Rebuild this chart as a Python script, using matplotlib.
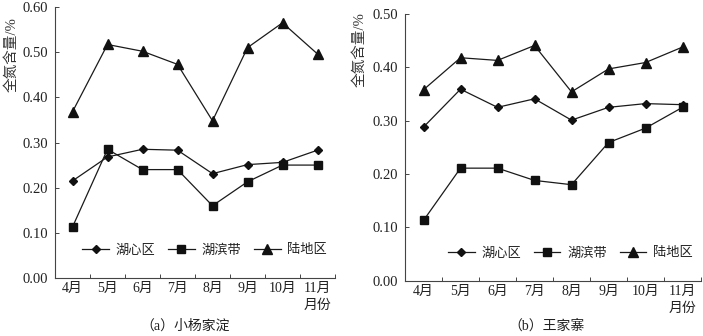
import matplotlib
matplotlib.use("Agg")
import matplotlib.pyplot as plt
from matplotlib.ticker import FixedLocator, NullFormatter

plt.rcParams['font.family'] = ['Liberation Serif', 'Noto Sans CJK SC', 'DejaVu Sans']

months = ["4月", "5月", "6月", "7月", "8月", "9月", "10月", "11月"]
series_names = ["湖心区", "湖滨带", "陆地区"]

# (a) 小杨家淀
a_center = [0.215, 0.268, 0.285, 0.283, 0.231, 0.251, 0.256, 0.283]
a_shore = [0.113, 0.285, 0.240, 0.240, 0.160, 0.213, 0.250, 0.250]
a_land = [0.368, 0.517, 0.502, 0.473, 0.348, 0.510, 0.565, 0.496]
a_yticks = [0.00, 0.10, 0.20, 0.30, 0.40, 0.50, 0.60]

# (b) 王家寨
b_center = [0.288, 0.359, 0.325, 0.341, 0.301, 0.325, 0.332, 0.330]
b_shore = [0.113, 0.211, 0.211, 0.188, 0.180, 0.259, 0.286, 0.325]
b_land = [0.358, 0.418, 0.413, 0.441, 0.354, 0.397, 0.409, 0.438]
b_yticks = [0.00, 0.10, 0.20, 0.30, 0.40, 0.50]

captions = ["（a）小杨家淀", "（b）王家寨"]
ylabel = "全氮含量/%"
xlabel = "月份"

TXT = "#222222"
fig = plt.figure(figsize=(7.03, 3.36), dpi=100)

ax1 = fig.add_axes([55/703, 58/336, 280/703, 271/336])
ax2 = fig.add_axes([405/703, 55.3/336, 296/703, 266.7/336])

markers = ["D", "s", "^"]
msizes = [4.5, 5.5, 6.5]

def draw(ax, data, yticks):
    x = list(range(len(months)))
    for vals, name, m, ms in zip(data, series_names, markers, msizes):
        ax.plot(x, vals, color="#1a1a1a", lw=0.9, marker=m, ms=ms,
                mfc="#111111", mec="#111111", label=name)
    ax.set_xlim(-0.5, len(months) - 0.5)
    ax.set_ylim(yticks[0], yticks[-1])
    ax.xaxis.set_major_locator(FixedLocator([i - 0.5 for i in range(len(months) + 1)]))
    ax.xaxis.set_major_formatter(NullFormatter())
    ax.xaxis.set_minor_locator(FixedLocator(x))
    ax.set_xticklabels(months, minor=True)
    ax.tick_params(axis="x", which="major", direction="in", length=3, width=0.7, color="#444")
    ax.tick_params(axis="x", which="minor", length=0, pad=3, labelsize=10, labelcolor=TXT)
    ax.set_yticks(yticks)
    ax.set_yticklabels([f"{v:.2f}" for v in yticks])
    ax.tick_params(axis="y", direction="in", length=3, width=0.7, color="#444",
                   labelsize=10.5, labelcolor=TXT, pad=5)
    for s in ["top", "right"]:
        ax.spines[s].set_visible(False)
    for s in ["left", "bottom"]:
        ax.spines[s].set_linewidth(0.8)
        ax.spines[s].set_color("#444")
    ax.legend(loc="lower right", bbox_to_anchor=(0.99, 0.06), ncol=3, frameon=False,
              fontsize=9.5, handlelength=2.0, columnspacing=1.0, handletextpad=0.5,
              labelcolor=TXT, borderaxespad=0)
    ax.text(len(months) - 1, -0.103, xlabel, transform=ax.get_xaxis_transform(),
            ha="center", va="center", fontsize=10, color=TXT)

draw(ax1, [a_center, a_shore, a_land], a_yticks)
draw(ax2, [b_center, b_shore, b_land], b_yticks)

fig.text(12/703, 1 - 55/336, ylabel, rotation=90, ha="center", va="center", fontsize=10.5, color="#333")
fig.text(360/703, 1 - 50/336, ylabel, rotation=90, ha="center", va="center", fontsize=10.5, color="#333")
fig.text(185/703, 1 - 326/336, captions[0], ha="center", va="center", fontsize=10, color=TXT)
fig.text(547/703, 1 - 326/336, captions[1], ha="center", va="center", fontsize=10, color=TXT)

fig.savefig("out.png", dpi=100)
